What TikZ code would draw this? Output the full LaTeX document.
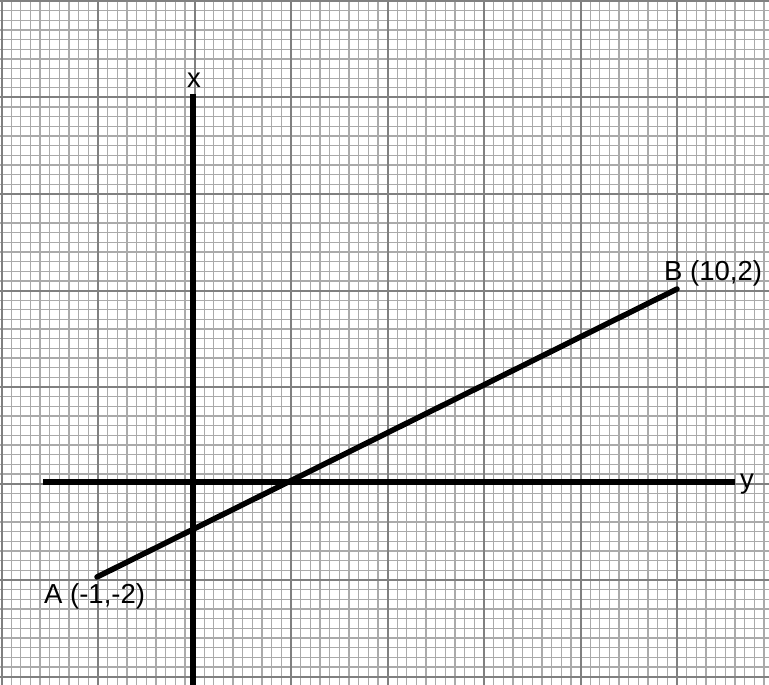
\documentclass[tikz,border=0pt]{standalone}
\usepackage{fontspec}
\setmainfont{Liberation Sans}
\definecolor{minorgrid}{RGB}{170,170,170}
\definecolor{majorgrid}{RGB}{128,128,128}
\begin{document}
\begin{tikzpicture}[x=1pt,y=-1pt,
  minorline/.style={draw=minorgrid, line width=1.3pt},
  majorline/.style={draw=majorgrid, line width=2pt},
  axisline/.style={draw=black, line width=5.5pt},
  segline/.style={draw=black, line width=5.5pt},
  lbl/.style={inner sep=0pt, font=\fontsize{27.5}{32}\selectfont, anchor=base west}]
\useasboundingbox (0,0) rectangle (769,685);
\fill[white] (0,0) rectangle (769,685);
% minor grid
\foreach \i in {0,...,79} {
  \draw[minorline] ({1.5+\i*9.65},0) -- ({1.5+\i*9.65},685);
}
\foreach \j in {0,...,71} {
  \draw[minorline] (0,{1+\j*9.65}) -- (769,{1+\j*9.65});
}
% major grid
\foreach \i in {0,...,7} {
  \draw[majorline] ({1.5+\i*96.5},0) -- ({1.5+\i*96.5},685);
  \draw[majorline] (0,{1+\i*96.5}) -- (769,{1+\i*96.5});
}
% axes
\coordinate (xtop) at (193,94);
\coordinate (xbot) at (193,685);
\coordinate (yleft) at (43,482);
\coordinate (yright) at (735,482);
\draw[axisline] (xtop) -- (xbot);
\draw[axisline] (yleft) -- (yright);
\node[lbl] (xl) at (187,88) {x};
\node[lbl] (yl) at (740,488) {y};
% segment
\coordinate (A) at (97,577);
\coordinate (B) at (677,289);
\draw[segline, line cap=round] (A) -- (B);
\node[lbl] (al) at (44,603) {A (-1,-2)};
\node[lbl] (bl) at (664,280) {B (10,2)};
\end{tikzpicture}
\end{document}
